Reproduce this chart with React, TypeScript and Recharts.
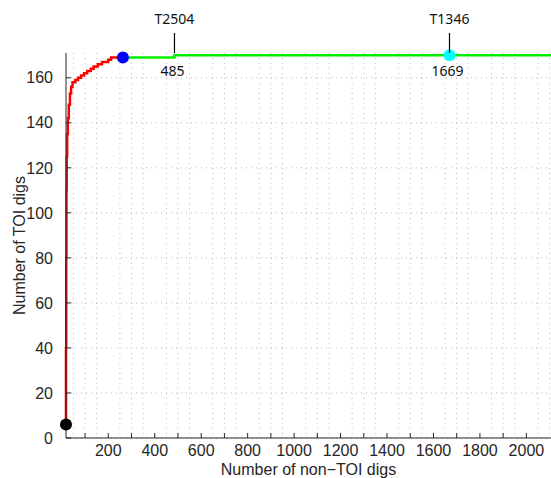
import React from "react"
import {
  ComposedChart,
  Line,
  Scatter,
  XAxis,
  YAxis,
  CartesianGrid,
  ReferenceDot,
} from "recharts"

// cumulative TOI digs vs. non-TOI digs
const redX = [18, 18, 19, 20, 21, 23, 26, 30, 35, 40, 46, 58, 70, 83, 96, 109, 125, 137, 155, 173, 200, 212, 263]
const redY = [6, 40, 80, 110, 125, 135, 142, 148, 153, 156, 158, 159, 160, 161, 162, 163, 164, 165, 166, 167, 168, 169, 169]
const greenX = [263, 485, 2106]
const greenY = [169, 170, 170]

const markers = [
  { x: 18, y: 6, color: "#000000" },
  { x: 263, y: 169, color: "#0000ff" },
  { x: 1669, y: 170, color: "#00ffff" },
]

const tags = [
  { x: 485, tag: "T2504" },
  { x: 1669, tag: "T1346" },
]

const xDomain = [18, 2106]
const yDomain = [0, 171]
const xTicks = Array.from({ length: 20 }, (_, i) => (i + 1) * 100)
const yTicks = [0, 20, 40, 60, 80, 100, 120, 140, 160]
const xGrid = Array.from({ length: 42 }, (_, i) => (i + 1) * 50)

const redData = redX.map((x, i) => ({ x, y: redY[i] }))
const greenData = greenX.map((x, i) => ({ x, y: greenY[i] }))

const axisFont = { fontFamily: "'Liberation Sans', Arial, sans-serif", fontSize: 16, fill: "#262626" }
const noteFont = "'Noto Sans', 'Open Sans', sans-serif"

const Tag = (props: any) => {
  const { cx, cy, tag, value } = props
  return (
    <g>
      <line x1={cx} x2={cx} y1={cy - 20} y2={cy} stroke="#000" strokeWidth={1.2} />
      <text x={cx} y={cy - 35} textAnchor="middle" dominantBaseline="central" fontFamily={noteFont} fontSize={14} fill="#111">
        {tag}
      </text>
      <text x={cx - 2} y={cy + 17} textAnchor="middle" dominantBaseline="central" fontFamily={noteFont} fontSize={14} fill="#111">
        {value}
      </text>
    </g>
  )
}

const Dot = (color: string) => (props: any) => (
  <circle cx={props.cx} cy={props.cy} r={6} fill={color} />
)

export default function App() {
  return (
    <div style={{ position: "absolute", left: 0, top: 0, background: "#fff" }}>
      <ComposedChart width={551} height={478} margin={{ top: 53, right: 0, bottom: 0, left: 0 }}>
        <CartesianGrid
          stroke="#bdbdbd"
          strokeDasharray="1 4"
          verticalValues={xGrid}
          horizontalValues={yTicks}
        />
        <XAxis
          type="number"
          dataKey="x"
          domain={xDomain}
          ticks={xTicks}
          height={40}
          tickSize={-5}
          tickMargin={12}
          tickFormatter={(v: number) => (v % 200 === 0 ? String(v) : "")}
          tick={axisFont}
          stroke="#262626"
          label={{ value: "Number of non\u2212TOI digs", position: "insideBottom", offset: 3, ...axisFont }}
        />
        <XAxis
          xAxisId="top"
          orientation="top"
          type="number"
          dataKey="x"
          domain={xDomain}
          ticks={xTicks}
          height={0}
          tickSize={-5}
          tick={() => <g />}
          stroke="#262626"
        />
        <YAxis
          type="number"
          domain={yDomain}
          ticks={yTicks}
          width={66}
          tickSize={-5}
          tickMargin={18}
          tick={axisFont}
          stroke="#262626"
          label={{ value: "Number of TOI digs", angle: -90, position: "center", dx: -14, ...axisFont }}
        />
        <Line data={redData} dataKey="y" type="stepAfter" stroke="#ff0000" strokeWidth={2.5} dot={false} isAnimationActive={false} />
        <Line data={greenData} dataKey="y" type="stepAfter" stroke="#00ee00" strokeWidth={2.5} dot={false} isAnimationActive={false} />
        {markers.map((m, i) => (
          <Scatter key={i} data={[m]} dataKey="y" shape={Dot(m.color)} isAnimationActive={false} />
        ))}
        {tags.map((t) => (
          <ReferenceDot
            key={t.tag}
            x={t.x}
            y={yDomain[1]}
            ifOverflow="visible"
            shape={(p: any) => <Tag {...p} tag={t.tag} value={t.x} />}
          />
        ))}
      </ComposedChart>
    </div>
  )
}
